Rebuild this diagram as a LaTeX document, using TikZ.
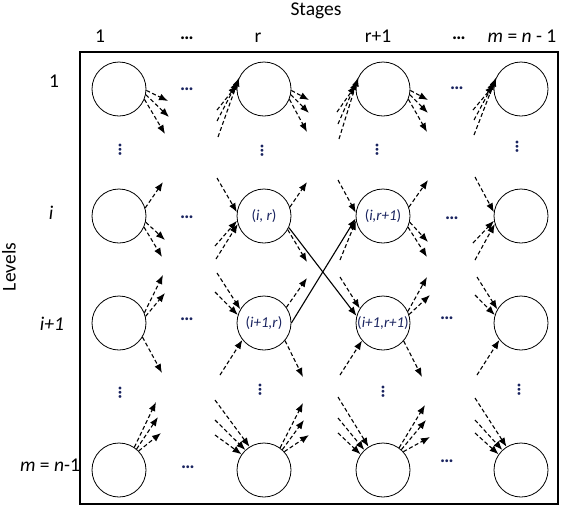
\documentclass[tikz,border=0pt]{standalone}
\usepackage{fontspec}
\setmainfont{Carlito}
\usetikzlibrary{arrows.meta}
\definecolor{ink}{RGB}{25,35,95}
\begin{document}
\begin{tikzpicture}[x=1pt,y=-1pt,
  st/.style={circle,draw,line width=0.8pt,minimum size=54pt,inner sep=0pt,
    font=\fontsize{15}{17}\selectfont\color{ink}},
  dar/.style={line width=1.1pt,dash pattern=on 4pt off 2.5pt,
    -{Latex[length=9pt,width=7pt]}},
  sar/.style={line width=1.1pt,-{Latex[length=9pt,width=7pt]}},
  lab/.style={font=\fontsize{19.5}{22}\selectfont,inner sep=0pt},
  dts/.style={font=\fontsize{19}{22}\selectfont\bfseries\color{ink},inner sep=0pt}]
\useasboundingbox (0,0) rectangle (562,507);
\draw[line width=1.1pt] (80,52) rectangle (558,504);

% headers
\node[lab,anchor=base] (hS) at (316,15) {Stages};
\node[lab,anchor=base] (h1) at (100,42) {1};
\node[dts,text=black] (hd1) at (187,38) {…};
\node[lab,anchor=base] (hr) at (258,42) {r};
\node[lab,anchor=base] (hr1) at (378,42) {r+1};
\node[dts,text=black] (hd2) at (459,38) {…};
\node[lab,anchor=base] (hm) at (522,42) {\textit{m} = \textit{n} - 1};
% row labels
\node[lab,rotate=90] (lv) at (9,267) {Levels};
\node[lab,anchor=base] (l1) at (54,87) {1};
\node[lab,anchor=base] (li) at (51,219) {\textit{i}};
\node[lab,anchor=base] (lj) at (52,330) {\textit{i+1}};
\node[lab,anchor=base] (lm) at (50,471) {\textit{m} = \textit{n}-1};

% circles
\node[st] (A1) at (119,89) {};
\node[st] (R1) at (264,89) {};
\node[st] (S1) at (383,89) {};
\node[st] (M1) at (521,89) {};
\node[st] (Ai) at (119,216) {};
\node[st] (Ri) at (264,216) {(\textit{i, r})};
\node[st] (Si) at (383,216) {(\textit{i,r+1})};
\node[st] (Mi) at (521,216) {};
\node[st] (Aj) at (119,323) {};
\node[st] (Rj) at (264,323) {(\textit{i+1,r})};
\node[st] (Sj) at (383,323) {(\textit{i+1,r+1})};
\node[st] (Mj) at (521,323) {};
\node[st] (Am) at (119,470) {};
\node[st] (Rm) at (264,470) {};
\node[st] (Sm) at (383,470) {};
\node[st] (Mm) at (521,470) {};

% dots
\node[dts] (d1) at (187,89) {…};
\node[dts] (d2) at (457,88) {…};
\node[dts] (d3) at (187,217) {…};
\node[dts] (d4) at (452,218) {…};
\node[dts] (d5) at (187,319) {…};
\node[dts] (d6) at (447,318) {…};
\node[dts] (d7) at (188,467) {…};
\node[dts] (d8) at (447,461) {…};
\node[dts,rotate=90] (v1) at (120,150) {…};
\node[dts,rotate=90] (v2) at (262,151) {…};
\node[dts,rotate=90] (v3) at (377,150) {…};
\node[dts,rotate=90] (v4) at (517,147) {…};
\node[dts,rotate=90] (v5) at (120,393) {…};
\node[dts,rotate=90] (v6) at (260,390) {…};
\node[dts,rotate=90] (v7) at (383,392) {…};
\node[dts,rotate=90] (v8) at (519,390) {…};

% outgoing stubs
\foreach \n/\a/\x/\y [count=\k] in {
  A1/-3/168/101, A1/-12/169/117, A1/-22/165/134,
  R1/-3/309/100, R1/-12/309/113, R1/-22/307/132,
  S1/-3/428/100, S1/-12/428/113, S1/-22/427/132,
  Ai/17/163/182, Ai/-13/165/240, Ai/-24/162/257,
  Ri/19/307/182, Ri/-30/307/262,
  Si/19/428/180, Si/-13/428/242, Si/-24/427/257,
  Aj/22/163/275, Aj/14/165/293, Aj/-31/162/373,
  Rj/35/307/278, Rj/-40/303/377,
  Sj/25/427/277, Sj/18/430/295, Sj/-41/422/377,
  Am/56/156/402, Am/50/158/417, Am/44/161/433,
  Rm/54/303/403, Rm/48/304/420, Rm/42/309/435,
  Sm/54/425/405, Sm/48/426/420, Sm/42/430/437}
{
  \coordinate (o\k) at (\x,\y);
  \draw[dar] (\n.\a) -- (o\k);
}
% incoming stubs
\foreach \n/\a/\x/\y [count=\k] in {
  R1/172/217/110, R1/163/217/121, R1/155/218/137,
  S1/172/337/112, S1/163/338/124, S1/155/339/139,
  M1/172/473/110, M1/163/474/120, M1/155/474/135,
  Ri/172/217/178, Ri/190/215/246, Ri/197/216/259,
  Si/173/338/180, Si/190/340/260,
  Mi/172/475/177, Mi/190/473/243, Mi/197/475/260,
  Rj/150/217/273, Rj/163/215/292, Rj/218/220/375,
  Sj/148/340/277, Sj/220/340/375,
  Mj/150/477/277, Mj/163/475/295, Mj/218/477/375,
  Rm/122/215/400, Rm/133/215/420, Rm/145/215/435,
  Sm/122/338/397, Sm/133/338/418, Sm/145/338/433,
  Mm/122/475/398, Mm/133/475/420, Mm/145/475/433}
{
  \coordinate (n\k) at (\x,\y);
  \draw[dar] (n\k) -- (\n.\a);
}
% solid crossing arrows
\draw[sar] (Ri.-25) -- (Sj.165);
\draw[sar] (Rj.0) -- (Si.185);
\end{tikzpicture}
\end{document}
